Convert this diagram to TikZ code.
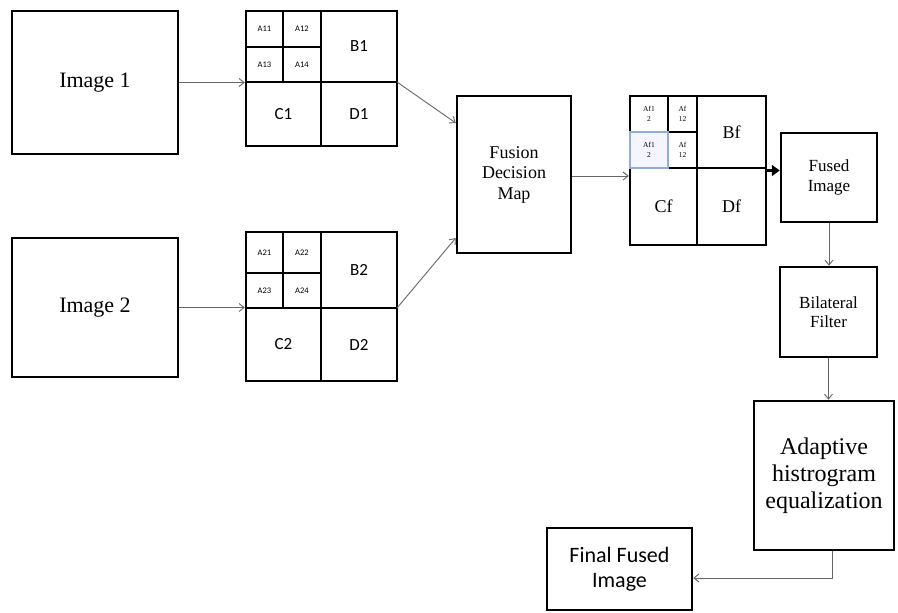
\documentclass[tikz,border=0pt]{standalone}
\usepackage{fontspec}
\setmainfont{Liberation Serif}
\newfontfamily\calfont{Carlito}
\usetikzlibrary{arrows.meta}
\begin{document}
\begin{tikzpicture}[x=1pt,y=-1pt,
  box/.style={draw=black, line width=2.5pt, inner sep=0pt, align=center},
  lbl/.style={inner sep=0pt, align=center},
  big/.style={lbl, font=\calfont\fontsize{17}{19}\selectfont},
  small/.style={lbl, font=\calfont\fontsize{8.5}{9}\selectfont},
  fbig/.style={lbl, font=\fontsize{18}{20}\selectfont},
  fsmall/.style={lbl, font=\fontsize{7.5}{9.5}\selectfont},
  gline/.style={line width=2.5pt},
  arr/.style={draw=black!60, line width=0.9pt, -{Straight Barb[length=5pt,width=8pt]}},
  thickarr/.style={draw=black, line width=2.6pt, -{Triangle[length=8pt,width=11pt]}}
]
\useasboundingbox (0,0) rectangle (898,613);
\fill[white] (0,0) rectangle (898,613);

% source images
\node[box, minimum width=166pt, minimum height=143pt, font=\fontsize{22}{26}\selectfont] (img1) at (95,82.5) {Image 1};
\node[box, minimum width=166pt, minimum height=139pt, font=\fontsize{22}{26}\selectfont] (img2) at (95,307.5) {Image 2};

% grid 1
\node[box, minimum width=151pt, minimum height=135pt] (g1) at (321.5,78.5) {};
\draw[gline] (246,82) -- (397,82) (321,11) -- (321,146) (246,47) -- (321,47) (283,11) -- (283,82);
\node[small] (a11) at (264.5,29) {A11};
\node[small] (a12) at (302,29) {A12};
\node[small] (a13) at (264.5,64.5) {A13};
\node[small] (a14) at (302,64.5) {A14};
\node[big] (b1) at (359,46.5) {B1};
\node[big] (c1) at (283.5,114) {C1};
\node[big] (d1) at (359,114) {D1};

% grid 2
\node[box, minimum width=151pt, minimum height=149pt] (g2) at (321.5,306.5) {};
\draw[gline] (246,308) -- (397,308) (321,232) -- (321,381) (246,273) -- (321,273) (283,232) -- (283,308);
\node[small] (a21) at (264.5,252.5) {A21};
\node[small] (a22) at (302,252.5) {A22};
\node[small] (a23) at (264.5,290.5) {A23};
\node[small] (a24) at (302,290.5) {A24};
\node[big] (b2) at (359,270) {B2};
\node[big] (c2) at (283.5,344.5) {C2};
\node[big] (d2) at (359,344.5) {D2};

% fusion decision map
\node[box, minimum width=114pt, minimum height=157pt, font=\fontsize{18}{20.5}\selectfont] (fdm) at (514,174.5) {Fusion\\Decision\\Map};

% fused grid
\node[box, minimum width=136pt, minimum height=149pt] (fg) at (698,170.5) {};
\draw[gline] (630,168) -- (766,168) (697,96) -- (697,245) (630,132) -- (697,132) (668,96) -- (668,168);
\draw[fill=blue!4, draw=cyan!50!blue!45, line width=1.2pt] (630,132) rectangle (668,168);
\node[fsmall] (af1) at (649,114) {Af1\\2};
\node[fsmall] (af2) at (682.5,114) {Af\\12};
\node[fsmall] (af3) at (649,150) {Af1\\2};
\node[fsmall] (af4) at (682.5,150) {Af\\12};
\node[fbig] (bf) at (731.5,132) {Bf};
\node[fbig] (cf) at (663.5,206.5) {Cf};
\node[fbig] (df) at (731.5,206.5) {Df};

% right column
\node[box, minimum width=96pt, minimum height=89pt, font=\fontsize{17}{20}\selectfont] (fused) at (829,177.5) {Fused\\Image};
\node[box, minimum width=97pt, minimum height=90pt, font=\fontsize{17}{18.5}\selectfont] (bil) at (828.5,312) {Bilateral\\Filter};
\node[box, minimum width=140pt, minimum height=149pt, font=\fontsize{24}{27}\selectfont] (ahe) at (824,475.5) {Adaptive\\histrogram\\equalization};
\node[box, minimum width=145pt, minimum height=82pt, font=\calfont\fontsize{22}{25}\selectfont] (final) at (619.5,569) {Final Fused\\Image};

% connectors
\draw[arr] (img1.east) -- (img1.east -| g1.west);
\draw[arr] (img2.east) -- (img2.east -| g2.west);
\coordinate (g1m) at (397,82);
\coordinate (g2m) at (397,308);
\draw[arr] (g1m) -- ([yshift=51.5pt]fdm.west);
\draw[arr] (g2m) -- ([yshift=-63.5pt]fdm.west);
\draw[arr] ([yshift=-1.5pt]fdm.east) -- ([yshift=-1.5pt]fdm.east -| fg.west);
\draw[thickarr] (fg.east) -- (fg.east -| fused.west);
\draw[arr] (fused.south) -- (fused.south |- bil.north);
\draw[arr] (bil.south) -- (bil.south |- ahe.north);
\draw[arr] ([xshift=8pt]ahe.south) |- ([yshift=-9pt]final.east);
\end{tikzpicture}
\end{document}
